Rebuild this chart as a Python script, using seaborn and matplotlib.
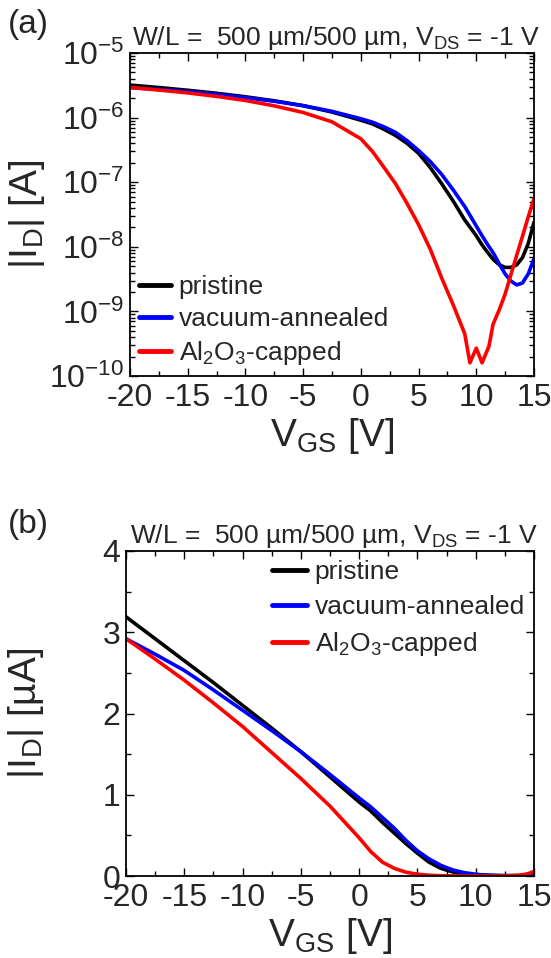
import numpy as np
import pandas as pd
import matplotlib
matplotlib.use("Agg")
import matplotlib.pyplot as plt
import matplotlib.ticker as mticker
import seaborn as sns

# ---- data (|I_D| in A vs V_GS in V) ----
v_pristine = [-20, -17.5, -15, -12.5, -10, -7.5, -5, -2.5, 0, 1, 2, 3, 4, 5, 6, 7, 8, 9,
              10, 10.5, 11, 11.5, 12, 12.5, 13, 13.5, 14, 14.5, 15]
i_pristine = [3.19e-6, 2.92e-6, 2.65e-6, 2.38e-6, 2.10e-6, 1.82e-6, 1.53e-6, 1.22e-6, 0.91e-6,
              0.80e-6, 0.66e-6, 0.53e-6, 0.40e-6, 2.8e-7, 1.7e-7, 9.5e-8, 5.1e-8, 2.6e-8,
              1.48e-8, 1.07e-8, 8.1e-9, 6.3e-9, 5.25e-9, 4.8e-9, 4.8e-9, 5.25e-9,
              6.8e-9, 1.12e-8, 2.4e-8]

v_vacuum = [-20, -17.5, -15, -12.5, -10, -7.5, -5, -2.5, 0, 1, 2, 3, 4, 5, 6, 7, 8, 9,
            10, 10.5, 11, 11.5, 12, 12.5, 13, 13.5, 14, 14.5, 15]
i_vacuum = [2.92e-6, 2.73e-6, 2.53e-6, 2.29e-6, 2.04e-6, 1.79e-6, 1.53e-6, 1.25e-6, 0.96e-6,
            0.85e-6, 0.72e-6, 0.59e-6, 0.44e-6, 3.1e-7, 2.1e-7, 1.32e-7, 7.6e-8, 4.2e-8,
            2.1e-8, 1.48e-8, 1.07e-8, 7.9e-9, 5.4e-9, 3.8e-9, 2.95e-9, 2.57e-9,
            2.75e-9, 3.8e-9, 6.5e-9]

v_capped = [-20, -17.5, -15, -12.5, -10, -7.5, -5, -2.5, 0, 1, 2, 3, 4, 5, 6, 7, 8, 9,
            9.45, 10.0, 10.5, 11.1, 11.45, 12, 12.5, 13, 13.5, 14, 14.5, 15]
i_capped = [2.92e-6, 2.67e-6, 2.41e-6, 2.13e-6, 1.84e-6, 1.52e-6, 1.20e-6, 0.86e-6, 0.47e-6,
            3.0e-7, 1.7e-7, 9.5e-8, 4.7e-8, 2.2e-8, 9.3e-9, 3.3e-9, 1.26e-9, 4.5e-10,
            1.6e-10, 2.7e-10, 1.6e-10, 2.9e-10, 6.3e-10, 1.07e-9, 1.86e-9, 3.7e-9,
            7.4e-9, 1.45e-8, 2.9e-8, 5.6e-8]

labels = ["pristine", "vacuum-annealed", "Al$_2$O$_3$-capped"]
colors = ["#000000", "#0000ff", "#ff0000"]
title_text = "W/L =  500 µm/500 µm, V$_\\mathregular{DS}$ = -1 V"

frames = []
for lab, v, i in zip(labels, [v_pristine, v_vacuum, v_capped],
                     [i_pristine, i_vacuum, i_capped]):
    frames.append(pd.DataFrame({"VGS": v, "ID": i, "sample": lab}))
df = pd.concat(frames, ignore_index=True)
df["ID_uA"] = df["ID"] * 1e6

sns.set_theme(style="ticks")
plt.rcParams["font.family"] = ["Liberation Sans", "DejaVu Sans"]
plt.rcParams["mathtext.fontset"] = "custom"
plt.rcParams["mathtext.rm"] = "Liberation Sans"
plt.rcParams["mathtext.it"] = "Liberation Sans:italic"
plt.rcParams["mathtext.default"] = "regular"
plt.rcParams["axes.unicode_minus"] = False

fig = plt.figure(figsize=(5.51, 9.58), dpi=100)
ax1 = fig.add_axes([130 / 551, 1 - 376 / 958, 404 / 551, 323 / 958])
ax2 = fig.add_axes([126 / 551, 1 - 876 / 958, 408 / 551, 325 / 958])

pal = dict(zip(labels, colors))
sns.lineplot(data=df, x="VGS", y="ID", hue="sample", palette=pal, hue_order=labels,
             estimator=None, sort=False, lw=2.6, ax=ax1)
sns.lineplot(data=df, x="VGS", y="ID_uA", hue="sample", palette=pal, hue_order=labels,
             estimator=None, sort=False, lw=2.6, ax=ax2)

tick_fs = 23
for ax in (ax1, ax2):
    ax.set_xlim(-20, 15)
    ax.xaxis.set_major_locator(mticker.MultipleLocator(5))
    ax.xaxis.set_minor_locator(mticker.MultipleLocator(2.5))
    ax.tick_params(which="both", direction="in", top=True, right=True, width=1.0,
                   color="black")
    ax.tick_params(which="major", length=6)
    ax.tick_params(which="minor", length=3.5)
    ax.tick_params(axis="x", which="major", labelsize=tick_fs, pad=5)
    ax.tick_params(axis="y", which="major", labelsize=tick_fs, pad=4)
    for s in ax.spines.values():
        s.set_linewidth(1.3)
        s.set_color("black")
    ax.set_xlabel("V$_\\mathregular{GS}$ [V]", fontsize=28, labelpad=2)
    ax.set_title(title_text, fontsize=19, pad=6, x=0.51)

ax1.set_yscale("log")
ax1.set_ylim(1e-10, 1e-5)
ax1.yaxis.set_major_locator(mticker.LogLocator(base=10, numticks=10))
ax1.yaxis.set_minor_locator(mticker.LogLocator(base=10, subs=np.arange(2, 10), numticks=20))
ax1.yaxis.set_minor_formatter(mticker.NullFormatter())
ax1.set_ylabel("|I$_\\mathregular{D}$| [A]", fontsize=28)
ax1.yaxis.set_label_coords(-0.205, 0.5)

ax2.set_ylim(0, 4)
ax2.yaxis.set_major_locator(mticker.MultipleLocator(1))
ax2.yaxis.set_minor_locator(mticker.MultipleLocator(0.5))
ax2.set_ylabel("|I$_\\mathregular{D}$| [µA]", fontsize=28)
ax2.yaxis.set_label_coords(-0.195, 0.5)

ax1.legend(loc="lower left", frameon=False, fontsize=19, handlelength=1.2,
           handletextpad=0.3, labelspacing=0.3, borderaxespad=0.15, borderpad=0.2)
ax2.legend(loc="upper right", frameon=False, fontsize=19, handlelength=1.3,
           handletextpad=0.3, labelspacing=0.42, borderaxespad=0.15, borderpad=0.2)
for leg in (ax1.get_legend(), ax2.get_legend()):
    for h in leg.get_lines():
        h.set_linewidth(3.5)

fig.text(8 / 551, 1 - 24 / 958, "(a)", fontsize=24, va="center", ha="left")
fig.text(8 / 551, 1 - 525 / 958, "(b)", fontsize=24, va="center", ha="left")

fig.savefig("out.png", dpi=100)
